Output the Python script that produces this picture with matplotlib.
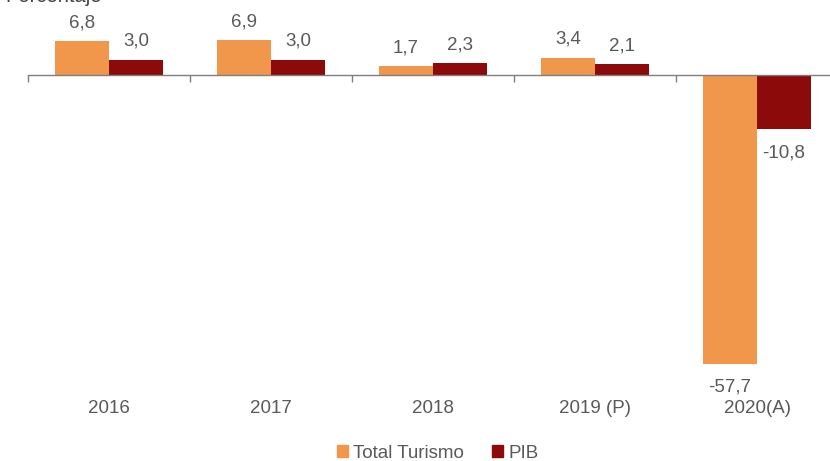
import matplotlib
matplotlib.use('Agg')
import matplotlib.pyplot as plt
from matplotlib.patches import Patch

# tasas de variacion (%)
years = ['2016', '2017', '2018', '2019 (P)', '2020(A)']
turismo = [6.8, 6.9, 1.7, 3.4, -57.7]
pib = [3.0, 3.0, 2.3, 2.1, -10.8]

c_tur = '#F0974B'
c_pib = '#8C0A0A'
c_txt = '#595959'

plt.rcParams['font.family'] = ['Liberation Sans', 'DejaVu Sans']

fig = plt.figure(figsize=(8.3, 4.61), dpi=100)
ax = fig.add_axes([28/830, 0, 810/830, 1])

def fmt(v):
    return ('%.1f' % v).replace('.', ',')

w = 1/3
x = range(len(years))
ax.bar([i - w/2 for i in x], turismo, w, color=c_tur)
ax.bar([i + w/2 for i in x], pib, w, color=c_pib)

fs = 13.5
for i in x:
    for v, dx in ((turismo[i], -w/2), (pib[i], w/2)):
        if v >= 0:
            ax.text(i + dx, v + 2.0, fmt(v), ha='center', va='bottom', fontsize=fs, color=c_txt)
        else:
            ax.text(i + dx, v - 3.0, fmt(v), ha='center', va='top', fontsize=fs, color=c_txt)

ax.set_xlim(-0.5, 4.5)
ax.set_ylim(-77.2, 15)

# eje horizontal en cero
for s in ['top', 'right', 'left']:
    ax.spines[s].set_visible(False)
ax.spines['bottom'].set_position(('data', 0))
ax.spines['bottom'].set_color('#7f7f7f')
ax.spines['bottom'].set_linewidth(1.0)
ax.set_yticks([])
ax.set_xticks([i - 0.5 for i in range(len(years) + 1)])
ax.set_xticklabels([])
ax.tick_params(axis='x', direction='out', length=5, color='#7f7f7f', width=1.0)

for i, lab in enumerate(years):
    ax.text(i, -66.6, lab, ha='center', va='center', fontsize=fs, color=c_txt)

fig.text(5/830, 1 - 2/461, 'Porcentaje', ha='left', va='baseline', fontsize=fs + 1, color='#404040')

handles = [Patch(color=c_tur, label='Total Turismo'), Patch(color=c_pib, label='PIB')]
fig.legend(handles=handles, loc='center', bbox_to_anchor=(438/830, 1 - 453/461), ncol=2,
           frameon=False, fontsize=fs, labelcolor=c_txt, handlelength=0.55, handleheight=0.55,
           handletextpad=0.3, columnspacing=1.5)

fig.savefig('out.png', dpi=100)
